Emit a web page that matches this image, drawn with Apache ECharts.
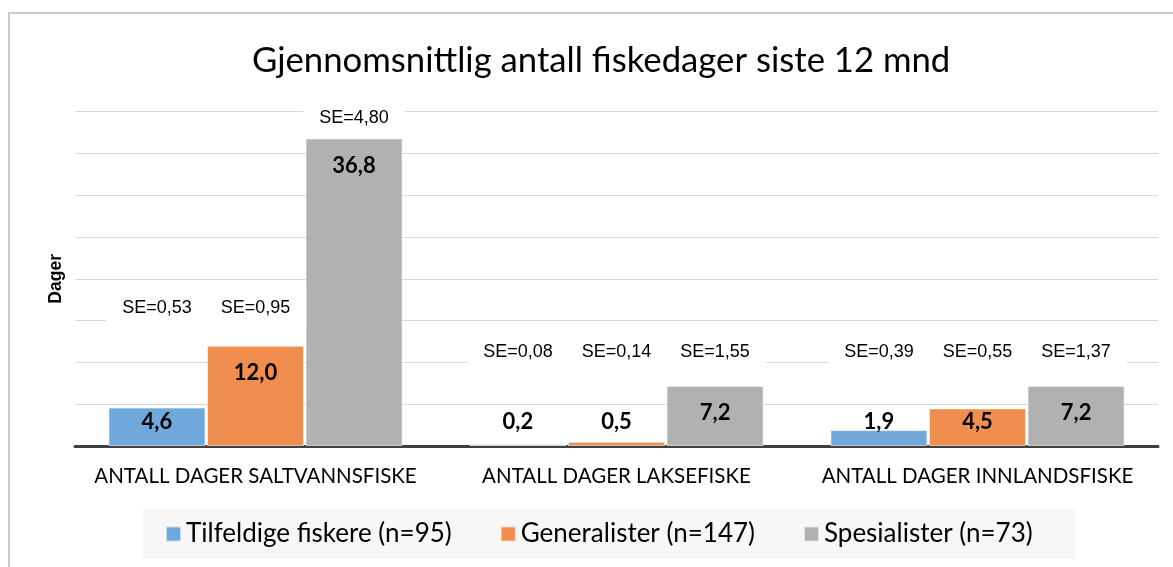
<!DOCTYPE html>
<html>
<head>
<meta charset="utf-8">
<script src="https://cdn.jsdelivr.net/npm/echarts@6/dist/echarts.min.js"></script>
<style>
  html, body { margin: 0; padding: 0; width: 1173px; height: 567px; overflow: hidden; background: #fff; }
  #frame { position: absolute; left: 8px; top: 12px; width: 2000px; height: 2000px; border-left: 2px solid #c9c9c9; border-top: 2px solid #c9c9c9; }
  #chart { position: absolute; left: 0; top: 0; width: 1173px; height: 567px; }
</style>
</head>
<body>
<div id="frame"></div>
<div id="chart"></div>
<script>
const titleText = 'Gjennomsnittlig antall fiskedager siste 12 mnd';
const categories = ['ANTALL DAGER SALTVANNSFISKE', 'ANTALL DAGER LAKSEFISKE', 'ANTALL DAGER INNLANDSFISKE'];
const seriesNames = ['Tilfeldige fiskere (n=95)', 'Generalister (n=147)', 'Spesialister (n=73)'];
const tilfeldige = [4.6, 0.2, 1.9];
const generalister = [12.0, 0.5, 4.5];
const spesialister = [36.8, 7.2, 7.2];
const seTilfeldige = [0.53, 0.08, 0.39];
const seGeneralister = [0.95, 0.14, 0.55];
const seSpesialister = [4.80, 1.55, 1.37];
// height (in days, on the value axis) where each SE annotation sits
const seLevelTilfeldige = [16.5, 11.2, 11.2];
const seLevelGeneralister = [16.5, 11.2, 11.2];
const seLevelSpesialister = [39.3, 11.2, 11.2];
const yTicks = [0, 5, 10, 15, 20, 25, 30, 35, 40];

const colors = ['#70a8dc', '#ef8e4f', '#b1b1b1'];
const values = [tilfeldige, generalister, spesialister];
const ses = [seTilfeldige, seGeneralister, seSpesialister];
const seLevels = [seLevelTilfeldige, seLevelGeneralister, seLevelSpesialister];

const fmt = (v, d) => v.toFixed(d).replace('.', ',');

const series = values.map((vals, s) => ({
  name: seriesNames[s],
  type: 'bar',
  barGap: '1.5%',
  barCategoryGap: '18.5%',
  itemStyle: { color: colors[s], borderColor: 'rgba(255,255,255,0.6)', borderWidth: 1 },
  data: vals.map(v => ({
    value: v,
    label: v < 6
      ? { position: 'insideBottom', distance: 13 }
      : { position: 'insideTop', distance: 16 }
  })),
  label: {
    show: true,
    formatter: p => fmt(p.value, 1),
    fontFamily: 'Lato', fontWeight: 'bold', fontSize: 22, color: '#000'
  },
  markPoint: {
    symbol: 'circle', symbolSize: 0,
    silent: true,
    label: {
      show: true, position: 'inside',
      formatter: p => 'SE=' + fmt(p.data.se, 2),
      fontFamily: 'Liberation Sans', fontSize: 18, color: '#000',
      backgroundColor: '#fff', padding: [12, 16]
    },
    data: vals.map((v, c) => ({ coord: [categories[c], seLevels[s][c]], se: ses[s][c] }))
  }
}));

const chart = echarts.init(document.getElementById('chart'), null, { renderer: 'canvas' });
chart.setOption({
  animation: false,
  backgroundColor: 'transparent',
  color: colors,
  title: {
    text: titleText, left: 247, top: 38,
    textStyle: { fontFamily: 'Lato', fontWeight: 'normal', fontSize: 34.7, color: '#000' }
  },
  legend: {
    top: 509, left: 143,
    itemWidth: 15, itemHeight: 15, itemGap: 48,
    icon: 'rect',
    backgroundColor: '#f7f7f7', padding: [12, 42, 12, 22],
    textStyle: { fontFamily: 'Lato', fontSize: 26, color: '#000' },
    data: seriesNames
  },
  grid: { left: 75, right: 15, top: 111.7, bottom: 121, containLabel: false },
  xAxis: {
    type: 'category', data: categories,
    axisLine: { lineStyle: { color: '#404040', width: 3 } },
    axisTick: { show: false },
    axisLabel: { interval: 0, fontFamily: 'Lato', fontSize: 20.5, color: '#000', margin: 20 }
  },
  yAxis: {
    type: 'value', min: yTicks[0], max: yTicks[yTicks.length - 1], interval: yTicks[1] - yTicks[0],
    name: 'Dager', nameLocation: 'middle', nameGap: 10, nameRotate: 90,
    nameTextStyle: { fontFamily: 'Liberation Sans', fontWeight: 'bold', fontSize: 17.5, color: '#000' },
    axisLabel: { show: false },
    axisLine: { show: false }, axisTick: { show: false },
    splitLine: { lineStyle: { color: '#d9d9d9', width: 1 } }
  },
  series: series
});
</script>
</body>
</html>
